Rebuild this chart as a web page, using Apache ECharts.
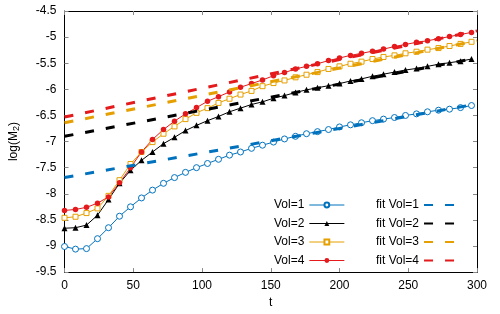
<!DOCTYPE html>
<html><head><meta charset="utf-8">
<script src="https://cdn.jsdelivr.net/npm/echarts@6/dist/echarts.min.js"></script>
<style>html,body{margin:0;padding:0;background:#fff}#c{width:500px;height:314px}</style>
</head><body><div id="c"></div>
<script>
// ---- data ----
const tValues = [0,8,16,24,32,40,48,56,64,72,80,88,96,104,112,120,128,136,144,152,160,168,176,184,192,200,208,216,224,232,240,248,256,264,272,280,288,296];
const vol1 = [-9.01,-9.06,-9.05,-8.86,-8.65,-8.43,-8.25,-8.08,-7.93,-7.80,
              -7.69,-7.59,-7.50,-7.42,-7.34,-7.26,-7.20,-7.13,-7.07,-7.01,
              -6.95,-6.90,-6.85,-6.81,-6.77,-6.72,-6.68,-6.64,-6.60,-6.57,
              -6.54,-6.50,-6.47,-6.43,-6.40,-6.38,-6.35,-6.31];
const vol2 = [-8.66,-8.65,-8.60,-8.41,-8.11,-7.80,-7.55,-7.36,-7.20,-7.04,
              -6.92,-6.79,-6.69,-6.60,-6.52,-6.43,-6.36,-6.29,-6.24,-6.17,
              -6.12,-6.06,-6.01,-5.97,-5.93,-5.89,-5.84,-5.80,-5.75,-5.71,
              -5.67,-5.63,-5.60,-5.56,-5.52,-5.49,-5.46,-5.42];
const vol3 = [-8.46,-8.44,-8.37,-8.28,-8.04,-7.74,-7.43,-7.20,-7.01,-6.85,
              -6.71,-6.57,-6.45,-6.36,-6.26,-6.18,-6.10,-6.03,-5.94,-5.88,
              -5.83,-5.77,-5.72,-5.67,-5.61,-5.56,-5.51,-5.47,-5.42,-5.38,
              -5.35,-5.31,-5.28,-5.24,-5.21,-5.17,-5.13,-5.09];
const vol4 = [-8.32,-8.30,-8.26,-8.18,-8.06,-7.79,-7.50,-7.20,-6.96,-6.77,
              -6.61,-6.47,-6.35,-6.23,-6.14,-6.05,-5.96,-5.89,-5.82,-5.74,
              -5.68,-5.61,-5.56,-5.51,-5.45,-5.40,-5.35,-5.31,-5.27,-5.23,
              -5.18,-5.14,-5.10,-5.07,-5.03,-4.99,-4.95,-4.91];
const fitT = [0, 300];
const fit1 = [-7.69, -6.28];
const fit2 = [-6.90, -5.40];
const fit3 = [-6.64, -5.07];
const fit4 = [-6.53, -4.88];
const dataNames = ['Vol=1','Vol=2','Vol=3','Vol=4'];
const fitNames = ['fit Vol=1','fit Vol=2','fit Vol=3','fit Vol=4'];

// ---- chart ----
const FONT = '"Liberation Sans", Arial, sans-serif';
const colors = ['#0072bd', '#000000', '#e69f00', '#e41a1c'];
const symbols = ['circle', 'triangle', 'rect', 'circle'];
const hollow = [true, false, true, false];
const symSizes = [6, 6, 5, 5.5];
const dataVals = [vol1, vol2, vol3, vol4];
const fitVals = [fit1, fit2, fit3, fit4];
const pairs = (xs, ys) => xs.map((x, i) => [x, ys[i]]);

const series = [];
dataVals.forEach((vals, i) => {
  series.push({
    name: dataNames[i], type: 'line', data: pairs(tValues, vals),
    symbol: symbols[i], symbolSize: symSizes[i], showSymbol: true,
    lineStyle: {width: 1, color: colors[i]},
    itemStyle: hollow[i]
      ? {color: '#ffffff', borderColor: colors[i], borderWidth: 1}
      : {color: colors[i], borderColor: colors[i], borderWidth: 0},
    z: 2, animation: false
  });
});
fitVals.forEach((vals, i) => {
  series.push({
    name: fitNames[i], type: 'line', data: pairs(fitT, vals),
    symbol: 'none', showSymbol: false,
    lineStyle: {width: 3, color: colors[i], type: [9, 12], cap: 'butt'},
    itemStyle: {color: colors[i]},
    z: 3, animation: false
  });
});

const tickStyle = {show: true, inside: true, length: 4, lineStyle: {color: '#888', width: 1}};
const lineStyleAxis = {show: true, onZero: false, lineStyle: {color: '#000', width: 1}};
const labelStyle = {fontSize: 12, color: '#000', fontFamily: FONT};

const option = {
  backgroundColor: '#fff',
  animation: false,
  grid: {left: 62, right: 23, top: 11, bottom: 41},
  xAxis: [
    {type: 'value', min: 0, max: 300, interval: 50, position: 'bottom',
     axisLine: lineStyleAxis, axisTick: tickStyle,
     axisLabel: Object.assign({margin: 8}, labelStyle), splitLine: {show: false},
     name: 't', nameLocation: 'middle', nameGap: 24,
     nameTextStyle: {fontSize: 12, color: '#000', fontFamily: FONT}},
    {type: 'value', min: 0, max: 300, interval: 50, position: 'top',
     axisLine: lineStyleAxis, axisTick: tickStyle,
     axisLabel: {show: false}, splitLine: {show: false}}
  ],
  yAxis: [
    {type: 'value', min: -9.5, max: -4.5, interval: 0.5, position: 'left',
     axisLine: lineStyleAxis, axisTick: tickStyle,
     axisLabel: Object.assign({margin: 8}, labelStyle), splitLine: {show: false},
     name: 'log(M{s|2})', nameLocation: 'middle', nameGap: 43, nameRotate: 90,
     nameTextStyle: {fontSize: 12, color: '#000', fontFamily: FONT,
       rich: {s: {fontSize: 9, color: '#000', fontFamily: FONT, padding: [6, 0, 0, 0]}}}},
    {type: 'value', min: -9.5, max: -4.5, interval: 0.5, position: 'right',
     axisLine: lineStyleAxis, axisTick: tickStyle,
     axisLabel: {show: false}, splitLine: {show: false}}
  ],
  legend: [
    {data: dataNames, orient: 'vertical', left: 269, top: 193,
     itemWidth: 35, itemHeight: 6, itemGap: 4.5,
     lineStyle: {width: 1},
     textStyle: {fontSize: 12, color: '#000', fontFamily: FONT, lineHeight: 14}, align: 'right',
     selectedMode: false},
    {data: fitNames, orient: 'vertical', left: 371, top: 193,
     itemWidth: 30, itemHeight: 6, itemGap: 4.5,
     itemStyle: {opacity: 0},
     textStyle: {fontSize: 12, color: '#000', fontFamily: FONT, lineHeight: 14}, align: 'right',
     selectedMode: false}
  ],
  series: series
};
const chart = echarts.init(document.getElementById('c'), null, {renderer: 'canvas'});
chart.setOption(option);
</script>
</body></html>
